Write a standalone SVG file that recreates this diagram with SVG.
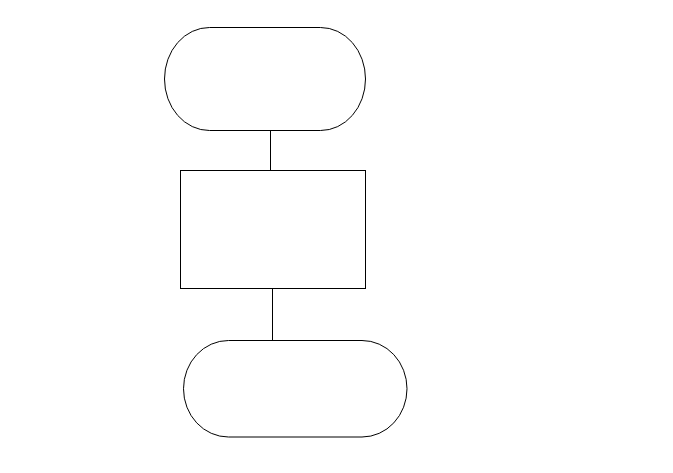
<svg xmlns="http://www.w3.org/2000/svg" width="673" height="473" viewBox="0 0 673 473">
<style>
.n{fill:#fff;stroke:#000;stroke-width:1}
.c{stroke:#000;stroke-width:1;fill:none}
</style>
<rect width="673" height="473" fill="#fff"/>
<g id="connectors">
<line class="c" x1="270.5" y1="131" x2="270.5" y2="170"/>
<line class="c" x1="272.5" y1="289" x2="272.5" y2="340"/>
</g>
<g id="start"><rect class="n" x="164.5" y="27.5" width="201" height="103" rx="45" ry="51.5"/></g>
<g id="process"><rect class="n" x="180.5" y="170.5" width="185" height="118"/></g>
<g id="end"><rect class="n" x="183.5" y="340.5" width="223.5" height="96.5" rx="45" ry="48.25"/></g>
</svg>
